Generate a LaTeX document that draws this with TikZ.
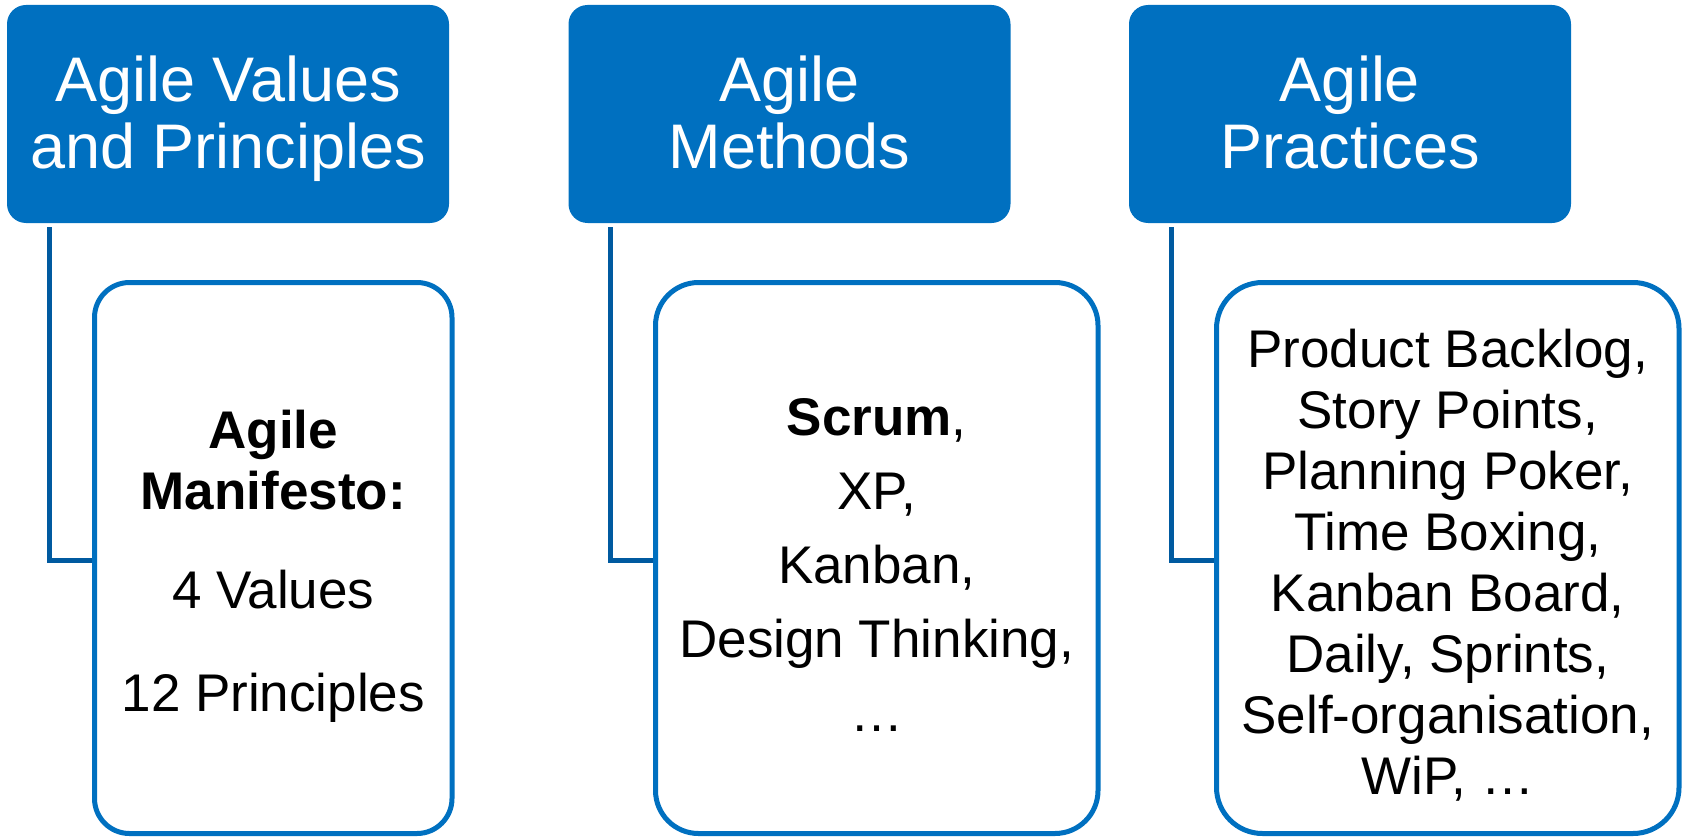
\documentclass[tikz,border=0pt]{standalone}
\usepackage{fontspec}
\setmainfont{Liberation Sans}
\definecolor{agileblue}{RGB}{0,112,192}
\definecolor{linkblue}{RGB}{0,90,160}
\begin{document}
\begin{tikzpicture}[x=1pt,y=-1pt,
  head/.style={fill=agileblue, rounded corners=19pt, minimum width=442pt,
    minimum height=218pt, inner sep=0pt},
  card/.style={draw=agileblue, line width=5pt, fill=white,
    minimum height=551pt, inner sep=0pt},
  headtxt/.style={text=white, font=\fontsize{63}{66}\selectfont,
    anchor=base, inner sep=0pt},
  cardtxt/.style={text=black, font=\fontsize{53}{61}\selectfont,
    anchor=base, inner sep=0pt},
  link/.style={draw=linkblue, line width=5pt}]
\useasboundingbox (0,0) rectangle (1685,837);

% column headers
\node[head] (h1) at (228,114) {};
\node[head] (h2) at (789.5,114) {};
\node[head] (h3) at (1350,114) {};
\node[headtxt] (h1a) at (228,102) {Agile Values};
\node[headtxt] (h1b) at (228,168) {and Principles};
\node[headtxt] (h2a) at (789.5,102) {Agile};
\node[headtxt] (h2b) at (789.5,168) {Methods};
\node[headtxt] (h3a) at (1350,102) {Agile};
\node[headtxt] (h3b) at (1350,168) {Practices};

% content cards
\node[card, minimum width=357.5pt, rounded corners=35pt] (c1) at (273.25,558) {};
\node[card, minimum width=442.5pt, rounded corners=43pt] (c2) at (876.75,558) {};
\node[card, minimum width=462.5pt, rounded corners=46pt] (c3) at (1447.75,558) {};

% elbow links from header to card
\draw[link] ([xshift=42.5pt,yshift=-4pt]h1.south west) |- ([yshift=-2pt]c1.west);
\draw[link] ([xshift=42.5pt,yshift=-4pt]h2.south west) |- ([yshift=-2pt]c2.west);
\draw[link] ([xshift=42.5pt,yshift=-4pt]h3.south west) |- ([yshift=-2pt]c3.west);

% card 1
\node[cardtxt] (m1) at (273.25,448) {\bfseries Agile};
\node[cardtxt] (m2) at (273.25,509) {\bfseries Manifesto:};
\node[cardtxt] (m3) at (273.25,608) {4 Values};
\node[cardtxt] (m4) at (273.25,711) {12 Principles};

% card 2
\node[cardtxt] (s1) at (876.75,435) {\textbf{Scrum},};
\node[cardtxt] (s2) at (876.75,509) {XP,};
\node[cardtxt] (s3) at (876.75,583) {Kanban,};
\node[cardtxt] (s4) at (876.75,657) {Design Thinking,};
\node[cardtxt] (s5) at (876.75,731) {…};

% card 3
\node[cardtxt] (p1) at (1447.75,367) {Product Backlog,};
\node[cardtxt] (p2) at (1447.75,428) {Story Points,};
\node[cardtxt] (p3) at (1447.75,489) {Planning Poker,};
\node[cardtxt] (p4) at (1447.75,550) {Time Boxing,};
\node[cardtxt] (p5) at (1447.75,611) {Kanban Board,};
\node[cardtxt] (p6) at (1447.75,672) {Daily, Sprints,};
\node[cardtxt] (p7) at (1447.75,733) {Self-organisation,};
\node[cardtxt] (p8) at (1447.75,794) {WiP, …};
\end{tikzpicture}
\end{document}
